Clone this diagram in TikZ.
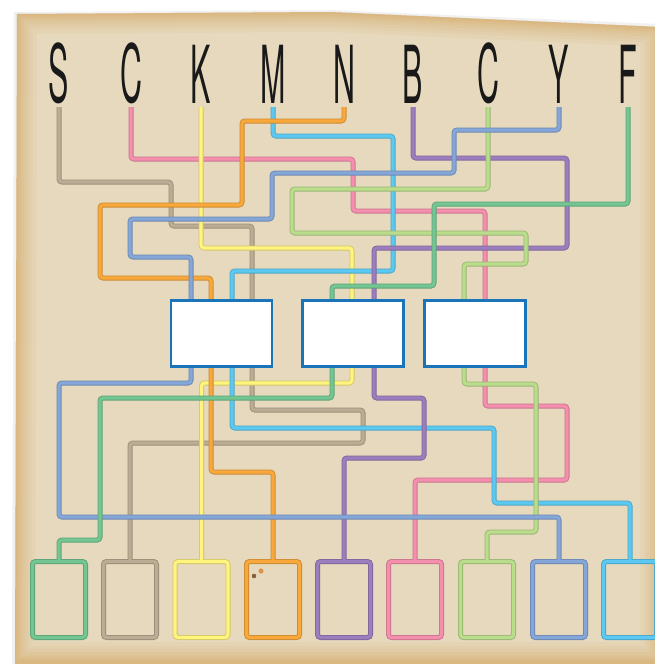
\documentclass[tikz,border=0pt]{standalone}
\usepackage{fontspec}
\newfontfamily\letterfont{TeX Gyre Heros}
\definecolor{paper}{HTML}{E6D9BD}
\definecolor{burn}{HTML}{D39A45}
\definecolor{cgray}{HTML}{BCAC94}
\definecolor{cpink}{HTML}{F58FAE}
\definecolor{cyellow}{HTML}{FFF47E}
\definecolor{ccyan}{HTML}{5CC9F2}
\definecolor{corange}{HTML}{F9A83C}
\definecolor{cpurple}{HTML}{9C7DBE}
\definecolor{clgreen}{HTML}{BADD8C}
\definecolor{cblue}{HTML}{84A6D8}
\definecolor{cgreen}{HTML}{73C692}
\definecolor{boxblue}{HTML}{1A74BA}
\tikzset{
  wire/.style={draw=#1, line width=3.2pt, rounded corners=3pt,
    preaction={draw=#1!82!black, line width=5pt, rounded corners=3pt}},
  letter/.style={font=\letterfont\fontsize{80}{80}\selectfont, text=black!90, inner sep=0pt, anchor=south, xscale=0.38},
  midbox/.style={draw=boxblue, fill=white, line width=2.6pt, minimum width=101pt, minimum height=66pt, inner sep=0pt},
  endbox/.style={draw=#1, line width=3.2pt, rounded corners=3pt, minimum width=53pt, minimum height=76pt, inner sep=0pt,
    preaction={draw=#1!82!black, line width=5pt, rounded corners=3pt}},
  edge burn/.style={draw=burn, line width=#1, opacity=0.07}
}
\begin{document}
\begin{tikzpicture}[x=1pt,y=-1pt]
\useasboundingbox (0,0) rectangle (654,664);
\fill[white] (0,0) rectangle (654,664);
% paper shadow
\fill[black!10, opacity=0.5] (14,12) -- (330,10) -- (660,24) -- (660,670) -- (12,670) -- cycle;
\begin{scope}
\clip (17,14) -- (330,12) -- (660,27) -- (660,670) -- (15,670) -- cycle;
\fill[paper] (0,0) rectangle (660,670);
\foreach \w in {40,32,26,20,15,11,8,5,3}{
  \draw[edge burn=\w pt] (17,14) -- (330,12) -- (660,27) -- (660,662) -- (15,662) -- cycle;
}
\end{scope}
% letters
\node[letter] (lS)  at (59,104)  {S};
\node[letter] (lC)  at (131,104) {C};
\node[letter] (lK)  at (201,104) {K};
\node[letter] (lM)  at (273,104) {M};
\node[letter] (lN)  at (344,104) {N};
\node[letter] (lB)  at (413,104) {B};
\node[letter] (lC2) at (488,104) {C};
\node[letter] (lY)  at (559,104) {Y};
\node[letter] (lF)  at (628,104) {F};
% bottom boxes
\node[endbox=cgreen]  (bGreen)  at (59,599.5)  {};
\node[endbox=cgray]   (bGray)   at (130,599.5) {};
\node[endbox=cyellow] (bYellow) at (201.5,599.5) {};
\node[endbox=corange] (bOrange) at (273,599.5) {};
\node[endbox=cpurple] (bPurple) at (344,599.5) {};
\node[endbox=cpink]   (bPink)   at (415,599.5) {};
\node[endbox=clgreen] (bLgreen) at (487,599.5) {};
\node[endbox=cblue]   (bBlue)   at (559,599.5) {};
\node[endbox=ccyan]   (bCyan)   at (630,599.5) {};
\fill[brown!60!black, opacity=0.85] (254,576) circle (2.3pt);
\fill[burn!90!red, opacity=0.85] (261,571) circle (2.6pt);
% wires
\draw[wire=cgray]   ([yshift=-3pt]lS.south)  |- (171,182) |- (252,226) |- (363,410) |- (130,443) -- (bGray.north);
\draw[wire=cpink]   ([yshift=-3pt]lC.south)  |- (353,159) |- (485,211) |- (567,406) |- (415,480) -- (bPink.north);
\draw[wire=cyellow] ([yshift=-3pt]lK.south)  |- (352,248) |- (201.5,383) -- (bYellow.north);
\draw[wire=ccyan]   ([yshift=-3pt]lM.south)  |- (393,136) |- (232,271) |- (494,428) |- (630,503) -- (bCyan.north);
\draw[wire=corange] ([yshift=-3pt]lN.south)  |- (242,121) |- (100,205) |- (211,278) |- (273,472) -- (bOrange.north);
\draw[wire=cpurple] ([yshift=-3pt]lB.south)  |- (567,158) |- (374,248) |- (424,398) |- (344,458) -- (bPurple.north);
\draw[wire=clgreen] ([yshift=-3pt]lC2.south) |- (292,189) |- (526,233) |- (464,264) |- (536,384) |- (487,532) -- (bLgreen.north);
\draw[wire=cblue]   ([yshift=-3pt]lY.south)  |- (454,130) |- (272,173) |- (130,219) |- (191,257) |- (59,383) |- (559,517) -- (bBlue.north);
\draw[wire=cgreen]  ([yshift=-3pt]lF.south)  |- (434,204) |- (332,286) |- (100,398) |- (59,540) -- (bGreen.north);
% middle boxes
\node[midbox] (m1) at (221.5,333.5) {};
\node[midbox] (m2) at (353,333.5) {};
\node[midbox] (m3) at (475,333.5) {};
\end{tikzpicture}
\end{document}
